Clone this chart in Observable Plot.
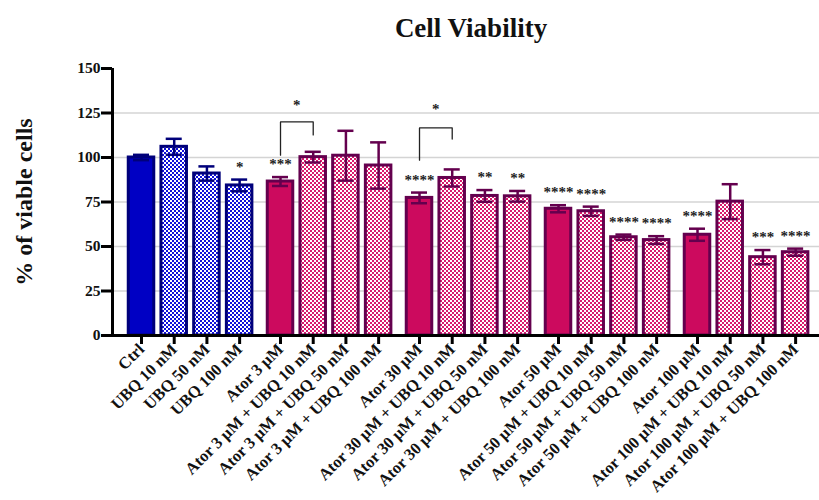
<!DOCTYPE html>
<html>
<head>
<meta charset="utf-8">
<script src="https://cdn.jsdelivr.net/npm/d3@7"></script>
<script src="https://cdn.jsdelivr.net/npm/@observablehq/plot@0.6"></script>
<style>
  html, body { margin: 0; padding: 0; background: #fff; }
  #chart svg { font-family: "Liberation Serif", "DejaVu Serif", serif; }
  #chart g[aria-label^="x-axis"] text { font-size: 16.5px; font-weight: bold; fill: #111; }
  #chart g[aria-label^="y-axis"] text { font-size: 15.5px; font-weight: bold; fill: #111; }
  #chart g[aria-label^="x-axis"] line, #chart g[aria-label^="x-axis"] path,
  #chart g[aria-label^="y-axis"] line, #chart g[aria-label^="y-axis"] path { stroke-width: 3px; stroke: #000; }
</style>
</head>
<body>
<div id="chart"></div>
<script>
const categories = [
  "Ctrl", "UBQ 10 nM", "UBQ 50 nM", "UBQ 100 nM",
  "Ator 3 μM", "Ator 3 μM + UBQ 10 nM", "Ator 3 μM + UBQ 50 nM", "Ator 3 μM + UBQ 100 nM",
  "Ator 30 μM", "Ator 30 μM + UBQ 10 nM", "Ator 30 μM + UBQ 50 nM", "Ator 30 μM + UBQ 100 nM",
  "Ator 50 μM", "Ator 50 μM + UBQ 10 nM", "Ator 50 μM + UBQ 50 nM", "Ator 50 μM + UBQ 100 nM",
  "Ator 100 μM", "Ator 100 μM + UBQ 10 nM", "Ator 100 μM + UBQ 50 nM", "Ator 100 μM + UBQ 100 nM"
];
const groups = [0,0,0,0, 1,1,1,1, 2,2,2,2, 3,3,3,3, 4,4,4,4];
const values = [100, 106, 91, 84.3, 86.5, 100.2, 101, 95.5, 77.3, 88.5, 78.4, 78.2, 71.2, 69.8, 55.2, 53.6, 56.6, 75.2, 44, 46.8];
const errors = [1.5, 4.5, 4, 3.3, 2.5, 3, 14, 13, 3, 4.8, 3.3, 3, 2, 2.6, 1.5, 2.2, 3.4, 9.8, 4, 2];
const significance = ["", "", "", "*", "***", "", "", "", "****", "", "**", "**", "****", "****", "****", "****", "****", "", "***", "****"];

// comparison brackets (indices into categories)
const bracketFrom = [4, 8];
const bracketTo = [5, 9];
const bracketTop = [120, 116.6];
const bracketLeftEnd = [101.3, 98.5];
const bracketRightEnd = [112.7, 110.4];
const bracketLabel = ["*", "*"];
const bracketLabelY = [129.3, 127];

const yTicks = [0, 25, 50, 75, 100, 125, 150];
const gridLines = [25, 50, 75, 100, 125];

const groupGap = 0.25;
const data = categories.map((c, i) => ({
  label: c, group: groups[i], pos: i + groupGap * groups[i],
  value: values[i], err: errors[i], sig: significance[i], first: i === 0 || groups[i] !== groups[i - 1]
}));
const posOf = new Map(data.map(d => [d.pos, d.label]));

const brackets = bracketFrom.map((f, k) => ({
  pts: [
    {x: data[f].pos, y: bracketLeftEnd[k]},
    {x: data[f].pos, y: bracketTop[k]},
    {x: data[bracketTo[k]].pos, y: bracketTop[k]},
    {x: data[bracketTo[k]].pos, y: bracketRightEnd[k]}
  ],
  mid: (data[f].pos + data[bracketTo[k]].pos) / 2,
  label: bracketLabel[k], ly: bracketLabelY[k]
}));

const blueDark = "#00007a";
const purpleDark = "#64004e";
const fillOf = d => d.group === 0 ? (d.first ? "#0000c4" : "url(#blueCheck)") : (d.first ? "#cc0a5e" : "url(#pinkCheck)");
const strokeOf = d => d.group === 0 ? blueDark : purpleDark;

const half = 0.39, cap = 0.245;

const svg = Plot.plot({
  width: 819,
  height: 500,
  marginLeft: 112,
  marginRight: 0,
  marginTop: 68,
  marginBottom: 165,
  x: {
    type: "linear",
    domain: [-0.887, 20.73],
    ticks: data.map(d => d.pos),
    tickFormat: v => posOf.get(v) ?? "",
    tickRotate: -45,
    tickSize: 9,
    tickPadding: 2,
    label: null
  },
  y: {
    domain: [0, 150],
    ticks: yTicks,
    tickSize: 11,
    tickPadding: 1,
    label: null
  },
  marks: [
    Plot.ruleY(gridLines, {stroke: "#d4d4d4", strokeWidth: 1.3}),
    Plot.rectY(data, {x1: d => d.pos - half, x2: d => d.pos + half, y: "value", fill: fillOf, stroke: strokeOf, strokeWidth: 3}),
    Plot.ruleX(data, {x: "pos", y1: d => d.value - d.err, y2: d => d.value + d.err, stroke: strokeOf, strokeWidth: 2.5}),
    Plot.ruleY(data, {y: d => d.value + d.err, x1: d => d.pos - cap, x2: d => d.pos + cap, stroke: strokeOf, strokeWidth: 2.5}),
    Plot.ruleY(data, {y: d => d.value - d.err, x1: d => d.pos - cap, x2: d => d.pos + cap, stroke: strokeOf, strokeWidth: 2.5}),
    Plot.text(data, {x: "pos", y: d => d.value + d.err, text: "sig", dy: -8, fontSize: 15, fontWeight: "bold", fill: "#222", lineAnchor: "bottom"}),
    ...brackets.map(b => Plot.line(b.pts, {x: "x", y: "y", stroke: "#222", strokeWidth: 1.3})),
    Plot.text(brackets, {x: "mid", y: "ly", text: "label", fontSize: 15, fontWeight: "bold", fill: "#222"}),
    Plot.ruleY([0], {stroke: "#000", strokeWidth: 3}),
    Plot.ruleX([-0.887], {y1: 0, y2: 150, stroke: "#000", strokeWidth: 3}),
    Plot.text(["Cell Viability"], {frameAnchor: "top", dx: 5, dy: -40, fontSize: 27, fontWeight: "bold", fill: "#111", lineAnchor: "middle"}),
    Plot.text(["% of viable cells"], {frameAnchor: "left", textAnchor: "middle", dx: -88, rotate: -90, fontSize: 24, fontWeight: "bold", fill: "#111", lineAnchor: "middle"})
  ]
});

const defs = d3.select(svg).insert("defs", ":first-child");
function check(id, color) {
  const p = defs.append("pattern").attr("id", id).attr("patternUnits", "userSpaceOnUse").attr("width", 4).attr("height", 4);
  p.append("rect").attr("width", 4).attr("height", 4).attr("fill", "#fff");
  p.append("rect").attr("width", 2).attr("height", 2).attr("fill", color);
  p.append("rect").attr("x", 2).attr("y", 2).attr("width", 2).attr("height", 2).attr("fill", color);
}
check("blueCheck", "#1010d8");
check("pinkCheck", "#d81a6c");

document.getElementById("chart").appendChild(svg);
</script>
</body>
</html>
